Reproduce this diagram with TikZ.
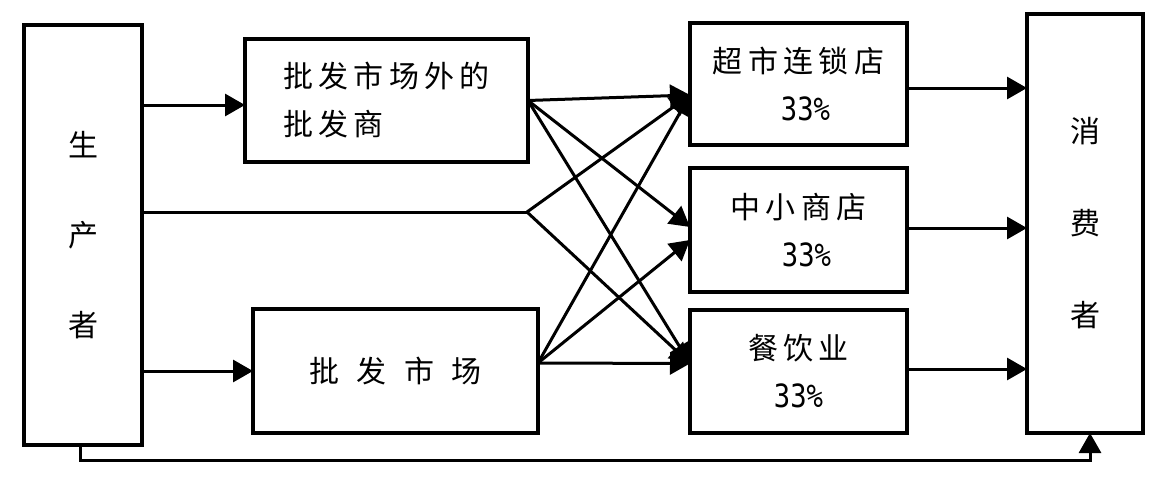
\documentclass[tikz,border=0pt]{standalone}
\usepackage{fontspec}
\setmainfont{Noto Sans CJK SC}[LetterSpace=18]
\newfontfamily\numfont{DejaVu Sans Mono}[FakeStretch=0.85]
\usetikzlibrary{arrows.meta}
\tikzset{
  box/.style={draw, line width=3.5pt, inner sep=0pt, outer sep=0pt, align=center,
    font=\fontsize{30}{48}\selectfont},
  conn/.style={line width=3pt},
  arr/.style={conn, -{Triangle[length=20pt,width=22pt]}},
}
\newcommand{\pct}{{\numfont\fontsize{32}{48}\selectfont 33\%}}
\begin{document}
\begin{tikzpicture}[x=1pt,y=-1pt]
\useasboundingbox (0,0) rectangle (1160,482);
% nodes
\node[box, minimum width=118pt, minimum height=420pt, font=\fontsize{30}{90}\selectfont] (P) at (83,235) {生\\产\\者};
\node[box, minimum width=283pt, minimum height=123pt, align=left] (W1) at (386.5,100.5) {批发市场外的\\批发商};
\node[box, minimum width=285pt, minimum height=124pt] (WM) at (395.5,371) {批\hspace{17.5pt}发\hspace{17.5pt}市\hspace{17.5pt}场};
\node[box, minimum width=217pt, minimum height=122pt] (T) at (798.5,84) {超市连锁店\\\hspace{14pt}\pct};
\node[box, minimum width=217pt, minimum height=124pt] (M) at (798.5,230) {中小商店\\\hspace{16pt}\pct};
\node[box, minimum width=217pt, minimum height=123pt] (B) at (798.5,371.5) {餐饮业\\\pct\hspace{14pt}};
\node[box, minimum width=116pt, minimum height=419pt, font=\fontsize{30}{92}\selectfont] (C) at (1085,223.5) {消\\费\\者};
% helper coordinates
\coordinate (a1) at ([yshift=-4.5pt]W1.west);
\coordinate (S) at (527,212);
\coordinate (tin) at ([yshift=-11pt]T.west);
\coordinate (min1) at ([yshift=3pt]M.west);
\coordinate (min2) at ([yshift=-10pt]M.west);
\coordinate (bin) at ([yshift=8pt]B.west);
\coordinate (wmo) at ([yshift=8pt]WM.east);
\coordinate (bot) at (0,460);
\coordinate (cin) at ([xshift=5pt]C.south);
\coordinate (tout) at ([yshift=-4pt]T.east);
\coordinate (mout) at ([yshift=2pt]M.east);
\coordinate (bout) at ([yshift=2.5pt]B.east);
\coordinate (pout) at ([xshift=-3pt]P.south);
% producer outputs
\draw[arr] (P.east |- a1) -- (a1);
\draw[conn] (P.east |- S) -- (S);
\draw[arr] (P.east |- WM.west) -- (WM.west);
% wholesaler outside market
\draw[arr] (W1.east) -- (tin);
\draw[arr] (W1.east) -- (min1);
\draw[arr] (W1.east) -- (bin);
% direct split
\draw[arr] (S) -- (tin);
\draw[arr] (S) -- (bin);
% wholesale market
\draw[arr] (wmo) -- (tin);
\draw[arr] (wmo) -- (min2);
\draw[arr] (wmo) -- (bin);
% retail to consumer
\draw[arr] (tout) -- (C.west |- tout);
\draw[arr] (mout) -- (C.west |- mout);
\draw[arr] (bout) -- (C.west |- bout);
% bottom route
\draw[arr] (pout) -- (pout |- bot) -- (cin |- bot) -- (cin);
\end{tikzpicture}
\end{document}
